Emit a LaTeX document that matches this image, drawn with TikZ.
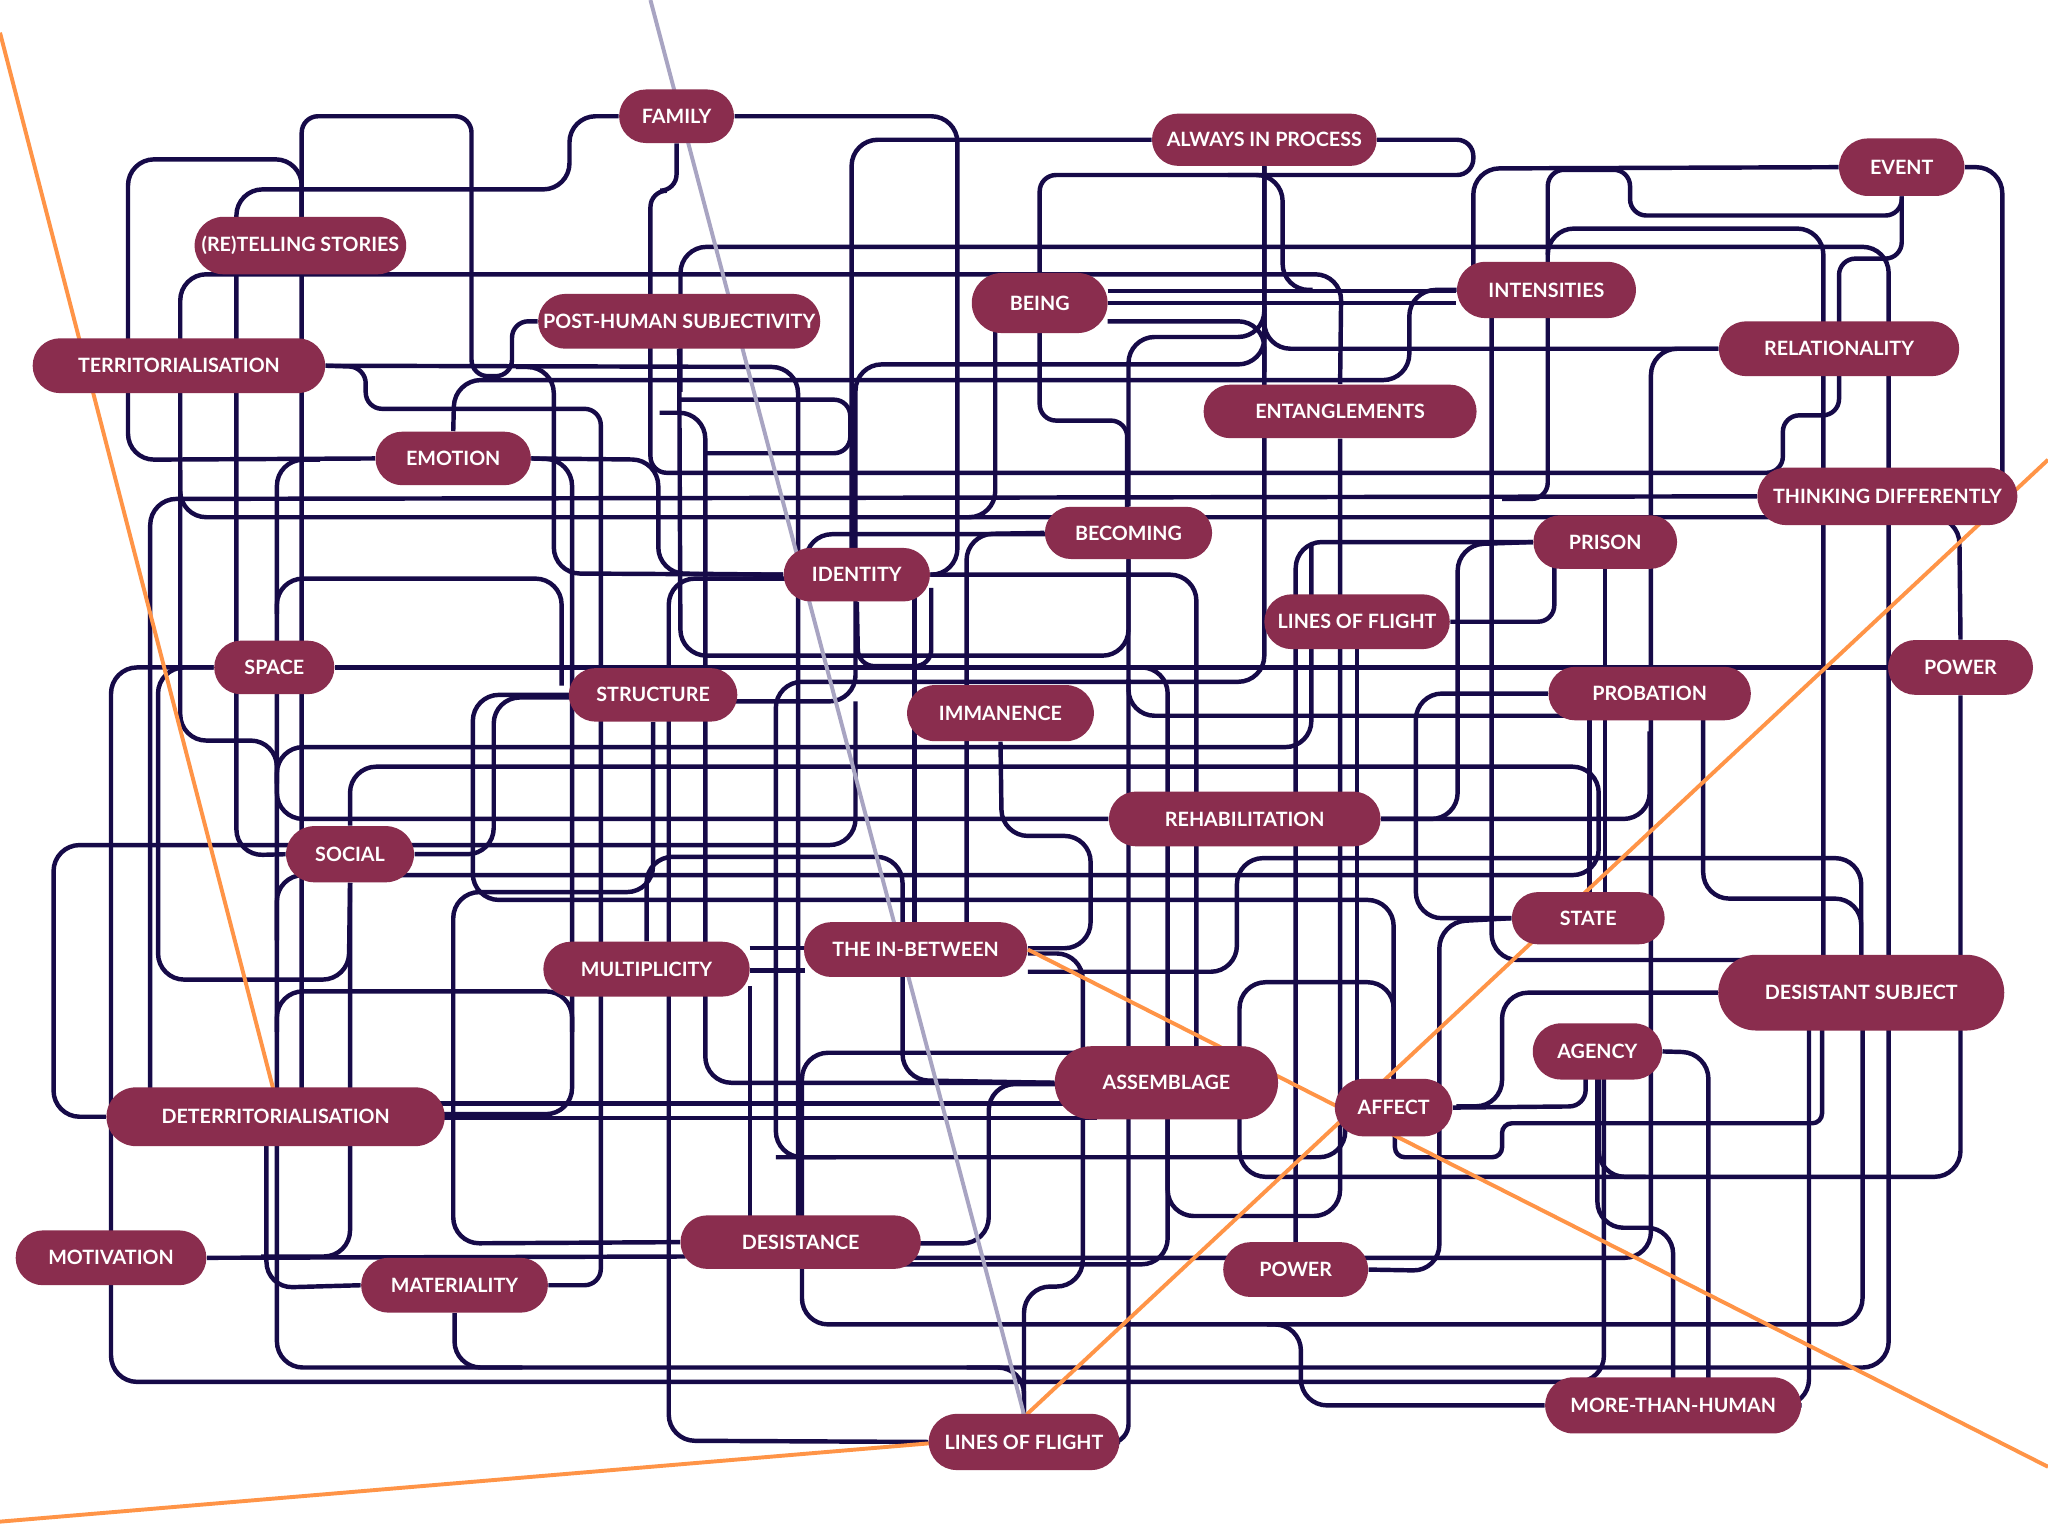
\documentclass[tikz,border=0pt]{standalone}
\usepackage{fontspec}
\setsansfont{Lato}
\usetikzlibrary{shapes.misc}
\definecolor{maroon}{RGB}{138,45,78}
\definecolor{navy}{RGB}{22,10,72}
\definecolor{orng}{RGB}{255,148,71}
\definecolor{greyl}{RGB}{168,164,194}
\pgfdeclarelayer{bgwhite}
\pgfdeclarelayer{background}
\pgfsetlayers{bgwhite,background,main}
\newcommand\pillfont{\sffamily\bfseries\fontsize{8.6}{10}\selectfont}
\newcommand\pillat[6]{\node[pill,minimum width=#4*0.02cm,minimum height=#5*0.02cm] (#1) at (#2,#3) {#6};}
\begin{document}
\begin{tikzpicture}[x=0.02cm,y=-0.02cm,
 pill/.style={rounded rectangle, fill=maroon, text=white, font=\pillfont, inner sep=0pt},
 ln/.style={draw=navy, line width=0.068cm, rounded corners=0.4cm},
 lns/.style={ln, rounded corners=0.25cm},
 lnt/.style={ln, rounded corners=0.15cm},
 orl/.style={draw=orng, line width=0.06cm},
 gyl/.style={draw=greyl, line width=0.06cm}]
\begin{pgfonlayer}{bgwhite}
\fill[white] (0,0) rectangle (1568,1176);
\end{pgfonlayer}
\path[use as bounding box] (0,0) rectangle (1568,1176);

\pillat{family}{518}{89}{88}{41}{FAMILY}
\pillat{aip}{968}{107}{172}{40}{ALWAYS IN PROCESS}
\pillat{event}{1456}{128}{96}{44}{EVENT}
\pillat{retell}{230}{188}{162}{44}{(RE)TELLING STORIES}
\pillat{posthum}{520}{246}{216}{42}{POST-HUMAN SUBJECTIVITY}
\pillat{being}{796}{232}{104}{46}{BEING}
\pillat{intens}{1184}{222}{137}{43}{INTENSITIES}
\pillat{relat}{1408}{267}{184}{42}{RELATIONALITY}
\pillat{territ}{137}{280}{224}{42}{TERRITORIALISATION}
\pillat{entang}{1026}{315}{209}{41}{ENTANGLEMENTS}
\pillat{emotion}{347}{351}{119}{41}{EMOTION}
\pillat{thinking}{1445}{380}{199}{44}{THINKING DIFFERENTLY}
\pillat{becoming}{864}{408}{128}{40}{BECOMING}
\pillat{prison}{1229}{415}{110}{41}{PRISON}
\pillat{identity}{656}{440}{112}{41}{IDENTITY}
\pillat{lof}{1039}{476}{142}{42}{LINES OF FLIGHT}
\pillat{space}{210}{511}{92}{41}{SPACE}
\pillat{powerA}{1501}{511}{111}{42}{POWER}
\pillat{structure}{500}{532}{129}{41}{STRUCTURE}
\pillat{probation}{1263}{531}{155}{41}{PROBATION}
\pillat{immanence}{766}{546}{143}{43}{IMMANENCE}
\pillat{rehab}{953}{627}{208}{42}{REHABILITATION}
\pillat{social}{268}{654}{98}{43}{SOCIAL}
\pillat{state}{1216}{703}{117}{40}{STATE}
\pillat{multi}{495}{742}{158}{42}{MULTIPLICITY}
\pillat{between}{701}{727}{171}{42}{THE IN-BETWEEN}
\pillat{dsubj}{1425}{760}{219}{58}{DESISTANT SUBJECT}
\pillat{agency}{1223}{805}{99}{43}{AGENCY}
\pillat{assemb}{893}{829}{171}{56}{ASSEMBLAGE}
\pillat{affect}{1067}{848}{90}{44}{AFFECT}
\pillat{deterr}{211}{855}{259}{45}{DETERRITORIALISATION}
\pillat{desist}{613}{951}{184}{41}{DESISTANCE}
\pillat{motiv}{85}{963}{146}{42}{MOTIVATION}
\pillat{powerB}{992}{972}{111}{42}{POWER}
\pillat{mater}{348}{984}{143}{42}{MATERIALITY}
\pillat{mth}{1281}{1076}{196}{43}{MORE-THAN-HUMAN}
\pillat{lofB}{784}{1104}{146}{43}{LINES OF FLIGHT}

\begin{pgfonlayer}{background}
\draw[ln] (family.west) -- (436,89) -- (436,145) -- (181,145) -- (181,655) -- (social.west);
\draw[lns] (posthum.west) -- (392,246) -- (392,288) -- (361,288) -- (361,89) -- (231,89) -- (231,840);
\draw[ln] (emotion.west) -- (98,352) -- (98,122) -- (231,122) -- (231,180);
\draw[ln] (family.east) -- (733,89) -- (733,440) -- (identity.east);
\draw[ln] (aip.west) -- (652,107) -- (652,425);
\draw[lns] (aip.east) -- (1128,107) -- (1128,134) -- (796,134) -- (796,322) -- (863,322) -- (863,395);
\draw[ln] (event.west) -- (1128,129) -- (1128,212);
\draw[ln] (aip.south) -- (968,522) -- (594,522) -- (594,886) -- (640,886);
\draw[ln] (968,240) -- (968,267) -- (relat.west);
\draw[ln] (intens.west) -- (1079,222) -- (1079,291) -- (348,291) -- (emotion.north);
\draw[ln] (territ.east) -- (611,281) -- (611,935);
\draw[ln] (395,281) -- (424,281) -- (424,439) -- (identity.west);
\draw[lns] (territ.east) -- (280,281) -- (280,313) -- (460,313) -- (460,984) -- (mater.east);
\draw[ln] (entang.north) -- (1027,210) -- (138,210) -- (138,567) -- (212,567) -- (212,1047) -- (1446,1047) -- (1446,785);
\draw[ln] (245,352) -- (212,352) -- (212,600);
\draw[ln] (740,1047) -- (784,1047) -- (784,1090);
\draw[ln] (138,360) -- (138,396) -- (1365,396);
\draw[ln] (thinking.west) -- (115,382) -- (115,840);
\draw[ln] (space.west) -- (85,511) -- (85,1058) -- (1228,1058) -- (1228,820);
\draw[ln] (space.west) -- (121,511) -- (121,750) -- (267,750) -- (social.south);
\draw[ln] (deterr.west) -- (41,855) -- (41,647) -- (655,647) -- (655,537);
\draw[ln] (social.north) -- (268,587) -- (1224,587) -- (1224,670) -- (212,670) -- (212,720);
\draw[ln] (social.east) -- (378,654) -- (378,534) -- (440,534);
\draw[ln] (440,532) -- (362,532) -- (362,689) -- (1067,689) -- (affect.north);
\draw[ln] (212,470) -- (212,443) -- (430,443) -- (430,525);
\draw[ln] (rehab.west) -- (212,627) -- (212,572) -- (1004,572) -- (1004,417);
\draw[lns] (event.south) -- (1456,165) -- (1248,165) -- (1248,130) -- (1185,130) -- (1185,382) -- (1150,382);
\draw[lns] (family.south) -- (518,146) -- (498,146) -- (498,362) -- (1365,362) -- (1365,318) -- (1408,318) -- (1408,198) -- (1456,198) -- (event.south);
\draw[ln] (event.east) -- (1533,128) -- (1533,372);
\draw[ln] (1185,195) -- (1185,175) -- (1396,175) -- (1396,735);
\draw[ln] (521,300) -- (521,189) -- (1446,189) -- (1446,735);
\draw[ln] (1470,396) -- (1500,396) -- (powerA.north);
\draw[ln] (powerA.south) -- (1501,901) -- (949,901) -- (949,752) -- (1067,752) -- (1067,830);
\draw[ln] (1260,901) -- (1224,901) -- (1224,820);
\draw[ln] (agency.east) -- (1308,806) -- (1308,1060);
\draw[ln] (relat.west) -- (1264,267) -- (1264,963) -- (690,963);
\draw[lnt] (1395,785) -- (1395,860) -- (1150,860) -- (1150,886) -- (1068,886) -- (1068,865);
\draw[ln] (1426,785) -- (1426,1014) -- (614,1014) -- (614,806) -- (840,806);
\draw[ln] (mth.west) -- (996,1076) -- (996,1014) -- (970,1014);
\draw[ln] (1385,785) -- (1385,1076) -- (mth.east);
\draw[ln] (1223,820) -- (1223,940) -- (1281,940) -- (1281,1060);
\draw[lns] (affect.east) -- (1214,847) -- (1214,820);
\draw[lns] (becoming.south) -- (864,1103) -- (lofB.east);
\draw[ln] (prison.west) -- (992,415) -- (992,955);
\draw[ln] (entang.south) -- (1026,931) -- (894,931) -- (894,850);
\draw[ln] (1039,495) -- (1039,830);
\draw[ln] (probation.west) -- (1084,531) -- (1084,703) -- (state.west);
\draw[ln] (rehab.east) -- (1116,627) -- (1116,417) -- (prison.west);
\draw[ln] (rehab.east) -- (1263,627) -- (1263,560);
\draw[ln] (1142,240) -- (1142,735) -- (1345,735);
\draw[ln] (powerB.east) -- (1102,973) -- (1102,706) -- (state.west);
\draw[ln] (787,744) -- (947,744) -- (947,657) -- (1425,657) -- (1425,735);
\draw[ln] (1304,545) -- (1304,688) -- (1425,688) -- (1425,735);
\draw[ln] (dsubj.west) -- (1150,760) -- (1150,847) -- (1115,847);
\draw[lns] (lof.east) -- (1190,476) -- (1190,430);
\draw[ln] (prison.south) -- (1229,690);
\draw[ln] (1217,550) -- (1217,690);
\draw[ln] (204,875) -- (204,986) -- (mater.west);
\draw[ln] (motiv.east) -- (525,962);
\draw[ln] (social.south) -- (268,962) -- (200,962);
\draw[ln] (structure.south) -- (500,683) -- (347,683) -- (347,952) -- (desist.west);
\draw[ln] (335,845) -- (835,845);
\draw[ln] (335,856) -- (840,856);
\draw[ln] (mater.south) -- (348,1047) -- (400,1047);
\draw[ln] (emotion.east) -- (438,352) -- (438,853) -- (335,853);
\draw[ln] (212,790) -- (212,759) -- (438,759) -- (438,790);
\draw[ln] (emotion.east) -- (504,352) -- (504,439) -- (identity.west);
\draw[ln] (posthum.south) -- (521,502) -- (864,502) -- (864,425);
\draw[ln] (968,127) -- (968,279) -- (655,279) -- (655,537) -- (560,537);
\draw[ln] (lofB.west) -- (512,1103) -- (512,443) -- (625,443);
\draw[ln] (assemb.west) -- (540,829) -- (540,316) -- (505,316);
\draw[ln] (multi.north) -- (495,656) -- (691,656) -- (691,827) -- (assemb.west);
\draw[ln] (574,755) -- (574,935);
\draw[ln] (574,726) -- (616,726);
\draw[ln] (574,743) -- (616,743);
\draw[lns] (identity.south) -- (657,510) -- (713,510) -- (713,450);
\draw[ln] (700,455) -- (700,712);
\draw[ln] (becoming.west) -- (740,409) -- (740,712);
\draw[ln] (immanence.south) -- (767,640) -- (835,640) -- (835,726) -- (787,726);
\draw[ln] (617,425) -- (617,409) -- (805,409);
\draw[ln] (identity.east) -- (916,440) -- (916,805);
\draw[ln] (870,511) -- (894,511) -- (894,805);
\draw[ln] (787,730) -- (829,730) -- (829,985) -- (784,985) -- (784,1090);
\draw[ln] (894,850) -- (894,968) -- (690,968);
\draw[ln] (1030,862) -- (1030,886) -- (594,886);
\draw[ln] (830,830) -- (757,830) -- (757,952) -- (690,952);
\draw[ln] (762,250) -- (762,396) -- (735,396);
\draw[ln] (848,223) -- (1115,223);
\draw[ln] (848,232) -- (1115,232);
\draw[ln] (848,246) -- (968,246) -- (968,285);
\draw[ln] (becoming.north) -- (864,258) -- (968,258) -- (968,235);
\draw[ln] (940,134) -- (982,134) -- (982,222) -- (1005,222);
\draw[lns] (521,306) -- (651,306) -- (651,347) -- (540,347);
\draw[ln] (space.east) -- (powerA.west);
\draw[ln] (864,520) -- (864,548) -- (1200,548);
% accent lines
\draw[orl] (0,25) -- (209,833);
\draw[orl] (0,1165) -- (712,1105);
\draw[orl] (786,1083) -- (1568,352);
\draw[orl] (787,727) -- (1568,1123);
\draw[gyl] (498,0) -- (784,1083);
\end{pgfonlayer}
\end{tikzpicture}
\end{document}
